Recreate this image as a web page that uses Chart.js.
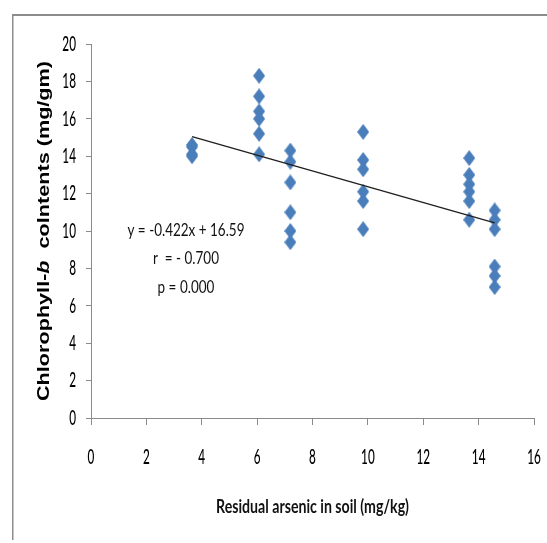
<!DOCTYPE html>
<html>
<head>
<meta charset="utf-8">
<script src="https://cdn.jsdelivr.net/npm/chart.js@4"></script>
<style>
  html, body { margin: 0; padding: 0; background: #fff; }
  #wrap { width: 547px; height: 543px; position: relative; }
</style>
</head>
<body>
<div id="wrap"><canvas id="myChart" width="547" height="543"></canvas></div>
<script>
// arsenic levels (x) and the chlorophyll-b readings at each level
const arsenicLevels = [3.65, 6.07, 7.2, 9.83, 13.66, 14.58];
const chlB_g1 = [14.6, 14.5, 14.1, 14.0];
const chlB_g2 = [18.3, 17.2, 16.4, 16.0, 15.2, 14.1];
const chlB_g3 = [14.3, 13.7, 12.6, 11.0, 10.0, 9.4];
const chlB_g4 = [15.3, 13.8, 13.3, 12.1, 11.6, 10.1];
const chlB_g5 = [13.9, 13.0, 12.5, 12.1, 11.6, 10.6];
const chlB_g6 = [11.1, 10.6, 10.1, 8.1, 7.6, 7.0];
const chlBGroups = [chlB_g1, chlB_g2, chlB_g3, chlB_g4, chlB_g5, chlB_g6];

const xTicks = [0, 2, 4, 6, 8, 10, 12, 14, 16];
const yTicks = [0, 2, 4, 6, 8, 10, 12, 14, 16, 18, 20];

// fitted line y = slope*x + intercept
const slope = -0.422;
const intercept = 16.59;
const statLines = ['y = -0.422x + 16.59', 'r  = - 0.700', 'p = 0.000'];
const xTitle = 'Residual arsenic in soil (mg/kg)';

const MARKER_COLOR = '#4a7ebb';
const AXIS_COLOR = '#8a8a8a';
const HUMAN = "Lato, 'Open Sans', sans-serif";

let points = [];
arsenicLevels.forEach((x, i) => {
    chlBGroups[i].forEach(v => points.push({x: x, y: v}));
});

const xMin = Math.min(...arsenicLevels);
const xMax = Math.max(...arsenicLevels);
const trend = [
    {x: xMin, y: slope * xMin + intercept},
    {x: xMax, y: slope * xMax + intercept}
];

// tall diamond marker
function makeDiamond() {
    const c = document.createElement('canvas');
    c.width = 12;
    c.height = 16;
    const g = c.getContext('2d');
    g.fillStyle = MARKER_COLOR;
    g.beginPath();
    g.moveTo(6, 0);
    g.lineTo(12, 8);
    g.lineTo(6, 16);
    g.lineTo(0, 8);
    g.closePath();
    g.fill();
    return c;
}
const diamond = makeDiamond();

// text squeezed sideways, like the reference's narrow type
function narrowText(ctx, text, x, y, font, sx, align) {
    ctx.save();
    ctx.font = font;
    ctx.textBaseline = 'middle';
    ctx.textAlign = align;
    ctx.translate(x, y);
    ctx.scale(sx, 1);
    ctx.fillText(text, 0, 0);
    ctx.restore();
}

const framePlugin = {
    id: 'frame',
    beforeDraw(chart) {
        const ctx = chart.ctx;
        ctx.save();
        ctx.fillStyle = '#8c8c8c';
        ctx.fillRect(12, 14, 547 - 12, 2);
        ctx.fillRect(12, 14, 1.5, 543 - 14 - 3);
        ctx.restore();
    }
};

const textPlugin = {
    id: 'texts',
    afterDraw(chart) {
        const ctx = chart.ctx;
        const xs = chart.scales.x;
        const ys = chart.scales.y;
        ctx.save();
        ctx.fillStyle = '#000';

        // tick labels from the scales
        const tickFont = '500 21px ' + HUMAN;
        xs.ticks.forEach(t => {
            narrowText(ctx, String(t.value), xs.getPixelForValue(t.value), ys.bottom + 39, tickFont, 0.56, 'center');
        });
        ys.ticks.forEach(t => {
            narrowText(ctx, String(t.value), xs.left - 15, ys.getPixelForValue(t.value), tickFont, 0.56, 'right');
        });

        // regression stats
        ctx.fillStyle = '#111';
        const statFont = '17px ' + HUMAN;
        ctx.font = statFont;
        const sScale = 117 / ctx.measureText(statLines[0]).width;
        const sx = xs.getPixelForValue(3.43);
        const sy = [10.05, 8.55, 7.0];
        statLines.forEach((t, i) => narrowText(ctx, t, sx, ys.getPixelForValue(sy[i]), statFont, sScale, 'center'));

        // x axis title
        const xtFont = 'bold 18px ' + HUMAN;
        ctx.font = xtFont;
        const xtScale = 193 / ctx.measureText(xTitle).width;
        narrowText(ctx, xTitle, (xs.left + xs.right) / 2, 507, xtFont, xtScale, 'center');

        // y axis title with italic b
        const parts = [
            {t: 'Chlorophyll-', f: 'bold 17px "Liberation Sans", sans-serif'},
            {t: 'b', f: 'italic bold 17px "Liberation Sans", sans-serif'},
            {t: '  colntents (mg/gm)', f: 'bold 17px "Liberation Sans", sans-serif'}
        ];
        let total = 0;
        parts.forEach(p => { ctx.font = p.f; p.w = ctx.measureText(p.t).width; total += p.w; });
        const targetLen = 340;
        ctx.translate(44, (ys.top + ys.bottom) / 2);
        ctx.rotate(-Math.PI / 2);
        ctx.scale(targetLen / total, 1);
        ctx.textAlign = 'left';
        ctx.textBaseline = 'middle';
        ctx.fillStyle = '#000';
        let px = -total / 2;
        parts.forEach(p => { ctx.font = p.f; ctx.fillText(p.t, px, 0); px += p.w; });
        ctx.restore();
    }
};

function drawChart() {
    const ctx = document.getElementById('myChart').getContext('2d');
    const myChart = new Chart(ctx, {
        type: 'scatter',
        data: {
            datasets: [{
                data: points,
                pointStyle: diamond,
                pointRadius: 7,
                pointHoverRadius: 7,
                backgroundColor: MARKER_COLOR,
                borderColor: MARKER_COLOR,
                order: 2
            }, {
                type: 'line',
                data: trend,
                borderColor: '#1f1f1f',
                borderWidth: 1.3,
                pointRadius: 0,
                fill: false,
                order: 1
            }]
        },
        options: {
            responsive: false,
            animation: false,
            layout: {
                padding: {top: 44, right: 13, bottom: 0, left: 0}
            },
            plugins: {
                legend: { display: false },
                tooltip: { enabled: false }
            },
            scales: {
                x: {
                    type: 'linear',
                    min: 0,
                    max: 16,
                    afterBuildTicks: s => { s.ticks = xTicks.map(v => ({value: v})); },
                    afterFit: s => { s.height = 125; s.paddingLeft = 0; s.paddingRight = 0; },
                    ticks: { display: false },
                    grid: {
                        drawOnChartArea: false,
                        tickLength: 7,
                        color: AXIS_COLOR
                    },
                    border: { color: AXIS_COLOR, width: 1 }
                },
                y: {
                    type: 'linear',
                    min: 0,
                    max: 20,
                    afterBuildTicks: s => { s.ticks = yTicks.map(v => ({value: v})); },
                    afterFit: s => { s.width = 91; s.paddingTop = 0; s.paddingBottom = 0; },
                    ticks: { display: false },
                    grid: {
                        drawOnChartArea: false,
                        tickLength: 5,
                        color: AXIS_COLOR
                    },
                    border: { color: AXIS_COLOR, width: 1 }
                }
            }
        },
        plugins: [framePlugin, textPlugin]
    });
}

drawChart();
</script>
</body>
</html>
